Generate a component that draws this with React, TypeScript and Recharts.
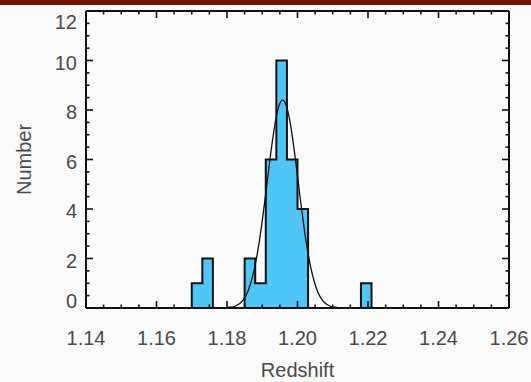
import React from "react";
import {
  ComposedChart,
  Area,
  Line,
  XAxis,
  YAxis,
  Label,
} from "recharts";

// Histogram: left edges of 0.003-wide redshift bins and counts
const binStarts = [
  1.167, 1.17, 1.173, 1.176, 1.179, 1.182, 1.185, 1.188, 1.191, 1.194, 1.197,
  1.2, 1.203, 1.206, 1.209, 1.212, 1.215, 1.218, 1.221,
];
const binCounts = [0, 1, 2, 0, 0, 0, 2, 1, 6, 10, 6, 4, 0, 0, 0, 0, 0, 1, 0];

// Gaussian fit curve
const fitX = [
  1.1798, 1.1808, 1.1818, 1.1828, 1.1838, 1.1848, 1.1858, 1.1868, 1.1878,
  1.1888, 1.1898, 1.1908, 1.1918, 1.1928, 1.1938, 1.1948, 1.1958, 1.1968,
  1.1978, 1.1988, 1.1998, 1.2008, 1.2018, 1.2028, 1.2038, 1.2048, 1.2058,
  1.2068, 1.2078, 1.2088, 1.2098, 1.2108, 1.2118,
];
const fitY = [
  0.01, 0.03, 0.05, 0.11, 0.2, 0.37, 0.63, 1.04, 1.61, 2.37, 3.31, 4.4, 5.56,
  6.66, 7.58, 8.19, 8.4, 8.19, 7.58, 6.66, 5.56, 4.4, 3.31, 2.37, 1.61, 1.04,
  0.63, 0.37, 0.2, 0.11, 0.05, 0.03, 0.01,
];

// Axis ticks
const xMajor = [1.14, 1.16, 1.18, 1.2, 1.22, 1.24, 1.26];
const xMajorLabels = ["1.14", "1.16", "1.18", "1.20", "1.22", "1.24", "1.26"];
const xMinor = [
  1.145, 1.15, 1.155, 1.165, 1.17, 1.175, 1.185, 1.19, 1.195, 1.205, 1.21,
  1.215, 1.225, 1.23, 1.235, 1.245, 1.25, 1.255,
];
const yMajor = [0, 2, 4, 6, 8, 10, 12];
const yMajorLabels = ["0", "2", "4", "6", "8", "10", "12"];
const yMinor = [0.5, 1, 1.5, 2.5, 3, 3.5, 4.5, 5, 5.5, 6.5, 7, 7.5, 8.5, 9, 9.5, 10.5, 11, 11.5];

const xTitle = "Redshift";
const yTitle = "Number";

const FONT = "'Liberation Sans', Arial, Helvetica, sans-serif";
const TEXT = "#4a4a4a";
const AXIS = "#111";
const MAJ = 7;
const MIN = 3.5;

const isIn = (arr: number[], v: number) => arr.findIndex((a) => Math.abs(a - v) < 1e-9);

const data = [
  ...binStarts.map((x, i) => ({ x, h: binCounts[i] })),
  ...fitX.map((x, i) => ({ x, g: fitY[i] })),
].sort((a, b) => a.x - b.x);

const xTicksAll = [...xMajor, ...xMinor].sort((a, b) => a - b);
const yTicksAll = [...yMajor, ...yMinor].sort((a, b) => a - b);

const BottomTick = (p: any) => {
  const v = p.payload.value;
  const mi = isIn(xMajor, v);
  const len = mi >= 0 ? MAJ : MIN;
  return (
    <g>
      <line x1={p.x} x2={p.x} y1={p.y} y2={p.y - len} stroke={AXIS} strokeWidth={1.6} />
      {mi >= 0 && (
        <text x={p.x} y={p.y + 37} textAnchor="middle" fontSize={20} fontFamily={FONT} fill={TEXT}>
          {xMajorLabels[mi]}
        </text>
      )}
    </g>
  );
};

const TopTick = (p: any) => {
  const v = p.payload.value;
  const len = isIn(xMajor, v) >= 0 ? MAJ : MIN;
  return <line x1={p.x} x2={p.x} y1={p.y} y2={p.y + len} stroke={AXIS} strokeWidth={1.6} />;
};

const LeftTick = (p: any) => {
  const v = p.payload.value;
  const mi = isIn(yMajor, v);
  const len = mi >= 0 ? MAJ : MIN;
  let shift = 2;
  if (mi === 0) shift = -7.5;
  if (mi === yMajor.length - 1) shift = 11;
  return (
    <g>
      <line x1={p.x} x2={p.x + len} y1={p.y} y2={p.y} stroke={AXIS} strokeWidth={1.6} />
      {mi >= 0 && (
        <text x={p.x - 9} y={p.y + shift + 7} textAnchor="end" fontSize={20} fontFamily={FONT} fill={TEXT}>
          {yMajorLabels[mi]}
        </text>
      )}
    </g>
  );
};

const RightTick = (p: any) => {
  const v = p.payload.value;
  const len = isIn(yMajor, v) >= 0 ? MAJ : MIN;
  return <line x1={p.x} x2={p.x - len} y1={p.y} y2={p.y} stroke={AXIS} strokeWidth={1.6} />;
};

const XTitle = (p: any) => {
  const vb = p.viewBox || { x: 86, y: 308, width: 423, height: 74 };
  return (
    <text x={vb.x + vb.width / 2} y={vb.y + 69} textAnchor="middle" fontSize={20} fontFamily={FONT} fill={TEXT}>
      {xTitle}
    </text>
  );
};

const YTitle = (p: any) => {
  const vb = p.viewBox || { x: 0, y: 11, width: 86, height: 297 };
  const cx = vb.x + 31;
  const cy = vb.y + vb.height / 2;
  return (
    <text
      x={cx}
      y={cy}
      transform={`rotate(-90, ${cx}, ${cy})`}
      textAnchor="middle"
      fontSize={20}
      fontFamily={FONT}
      fill={TEXT}
    >
      {yTitle}
    </text>
  );
};

export default function App() {
  return (
    <div
      style={{
        position: "absolute",
        left: 0,
        top: 0,
        width: 531,
        height: 382,
        background: "#fbfbfb",
        overflow: "hidden",
      }}
    >
      <div style={{ position: "absolute", left: 0, top: 0, width: 531, height: 5, background: "#741000" }} />
      <div style={{ position: "absolute", left: 0, top: 0 }}>
        <ComposedChart width={531} height={382} data={data} margin={{ top: 0, right: 0, bottom: 0, left: 0 }}>
          <XAxis
            xAxisId="b"
            dataKey="x"
            type="number"
            domain={[1.14, 1.26]}
            ticks={xTicksAll}
            interval={0}
            orientation="bottom"
            height={74}
            tickSize={0}
            tickMargin={0}
            tickLine={false}
            tick={BottomTick}
            axisLine={{ stroke: AXIS, strokeWidth: 2 }}
            allowDataOverflow
          >
            <Label content={XTitle} />
          </XAxis>
          <XAxis
            xAxisId="t"
            dataKey="x"
            type="number"
            domain={[1.14, 1.26]}
            ticks={xTicksAll}
            interval={0}
            orientation="top"
            height={11}
            tickSize={0}
            tickMargin={0}
            tickLine={false}
            tick={TopTick}
            axisLine={{ stroke: AXIS, strokeWidth: 2 }}
            allowDataOverflow
          />
          <YAxis
            yAxisId="l"
            type="number"
            domain={[0, 12]}
            ticks={yTicksAll}
            interval={0}
            orientation="left"
            width={86}
            tickSize={0}
            tickMargin={0}
            tickLine={false}
            tick={LeftTick}
            axisLine={{ stroke: AXIS, strokeWidth: 2 }}
            allowDataOverflow
          >
            <Label content={YTitle} />
          </YAxis>
          <YAxis
            yAxisId="r"
            type="number"
            domain={[0, 12]}
            ticks={yTicksAll}
            interval={0}
            orientation="right"
            width={22}
            tickSize={0}
            tickMargin={0}
            tickLine={false}
            tick={RightTick}
            axisLine={{ stroke: AXIS, strokeWidth: 2 }}
            allowDataOverflow
          />
          <Area
            xAxisId="b"
            yAxisId="l"
            dataKey="h"
            type="stepAfter"
            fill="#4fc6f5"
            fillOpacity={1}
            stroke="#111"
            strokeWidth={2}
            connectNulls
            isAnimationActive={false}
            dot={false}
            activeDot={false}
          />
          <Line
            xAxisId="b"
            yAxisId="l"
            dataKey="g"
            type="monotone"
            stroke="#111"
            strokeWidth={1.3}
            connectNulls
            dot={false}
            activeDot={false}
            isAnimationActive={false}
          />
        </ComposedChart>
      </div>
    </div>
  );
}
